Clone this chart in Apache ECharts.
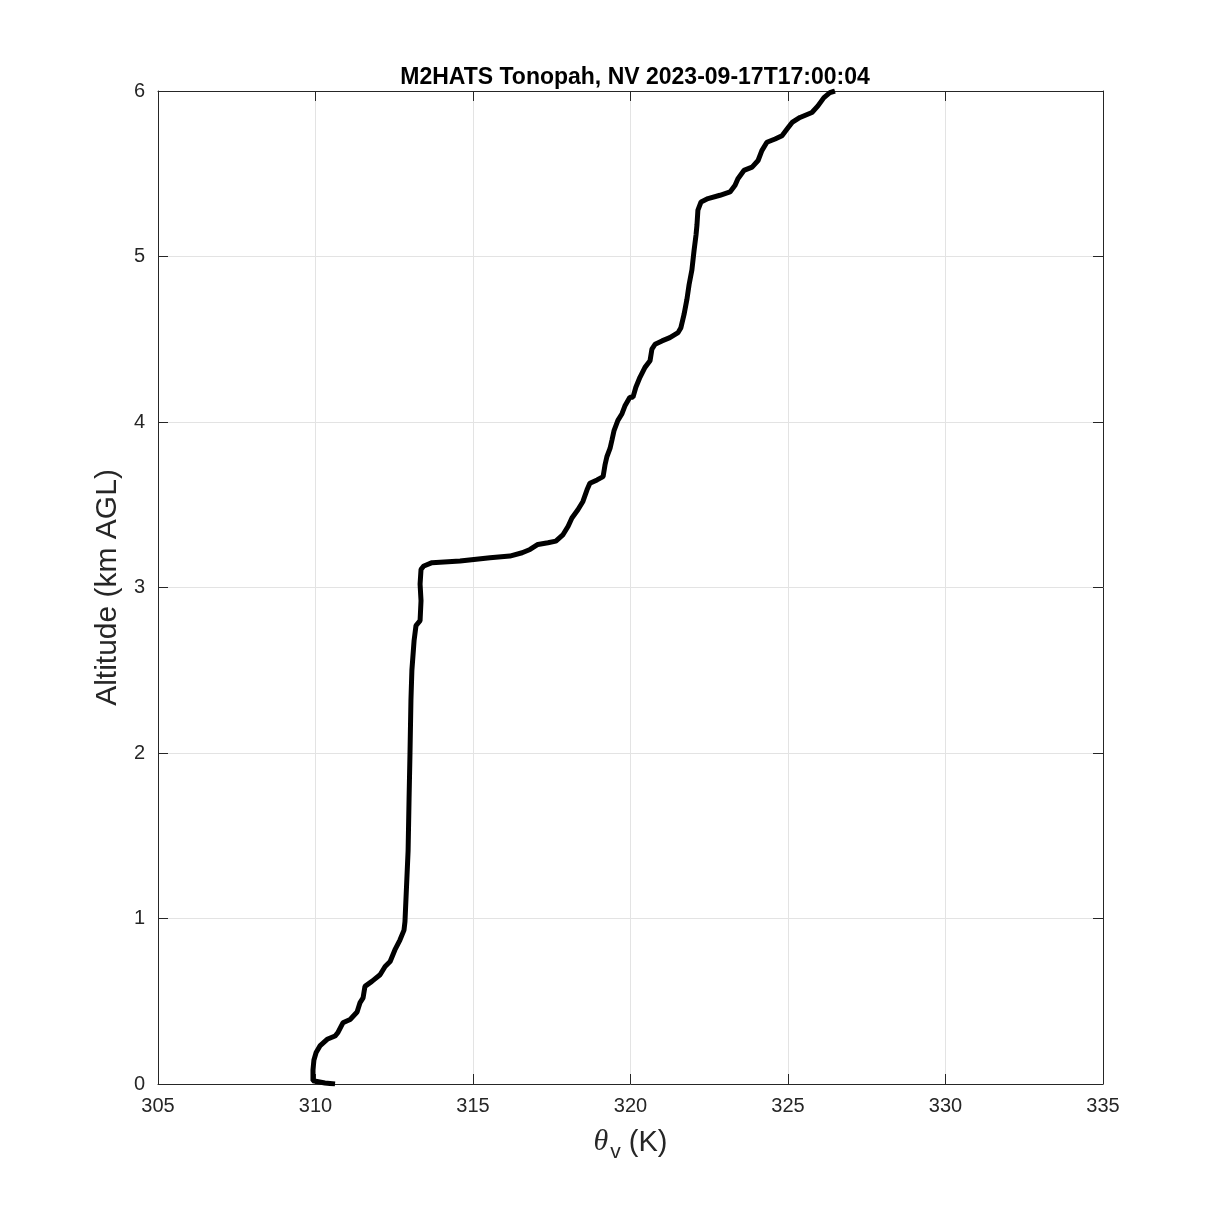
<!DOCTYPE html>
<html>
<head>
<meta charset="utf-8">
<script src="https://cdn.jsdelivr.net/npm/echarts@6/dist/echarts.min.js"></script>
<style>html,body{margin:0;padding:0;background:#fff;}#c{width:1219px;height:1219px;}</style>
</head>
<body>
<div id="c"></div>
<script>
const thetaV = [310.62,310.30,309.92,309.92,309.95,310.02,310.14,310.37,310.62,310.71,310.87,311.10,311.32,311.41,311.51,311.57,311.79,312.05,312.21,312.37,312.52,312.68,312.81,312.84,312.87,312.94,312.97,313.00,313.03,313.06,313.13,313.19,313.32,313.35,313.32,313.35,313.44,313.70,314.59,315.54,316.17,316.56,316.81,317.06,317.38,317.63,317.86,318.02,318.14,318.33,318.49,318.62,318.71,318.94,319.13,319.19,319.25,319.35,319.41,319.48,319.60,319.73,319.83,319.98,320.08,320.17,320.30,320.46,320.62,320.68,320.78,321.00,321.25,321.51,321.60,321.70,321.79,321.86,321.95,322.02,322.08,322.11,322.14,322.24,322.46,322.84,323.16,323.32,323.41,323.60,323.86,324.05,324.17,324.33,324.59,324.81,324.97,325.13,325.38,325.76,325.95,326.14,326.33,326.49];
const altitudeKm = [0.00,0.006,0.02,0.085,0.145,0.19,0.23,0.27,0.29,0.31,0.37,0.39,0.435,0.49,0.52,0.59,0.62,0.66,0.71,0.74,0.81,0.87,0.93,0.98,1.11,1.41,1.72,2.00,2.32,2.50,2.68,2.77,2.80,2.92,3.02,3.11,3.13,3.15,3.16,3.18,3.19,3.21,3.23,3.26,3.27,3.28,3.32,3.37,3.42,3.47,3.52,3.59,3.63,3.65,3.67,3.74,3.79,3.84,3.89,3.95,4.01,4.05,4.10,4.15,4.15,4.21,4.27,4.33,4.37,4.44,4.47,4.49,4.51,4.54,4.57,4.65,4.74,4.83,4.92,5.04,5.13,5.19,5.28,5.33,5.35,5.37,5.39,5.43,5.47,5.52,5.54,5.58,5.64,5.69,5.71,5.73,5.77,5.81,5.84,5.87,5.91,5.96,5.99,6.00];
const xTicks = [305,310,315,320,325,330,335];
const yTicks = [0,1,2,3,4,5,6];
const titleText = 'M2HATS Tonopah, NV 2023-09-17T17:00:04';

const data = thetaV.map((t,i)=>[t, altitudeKm[i]]);
const font = 'Helvetica, "Liberation Sans", Arial, sans-serif';
const serif = '"Liberation Serif", "DejaVu Serif", serif';
const axisCol = '#262626';
const chart = echarts.init(document.getElementById('c'));
const common = {
  axisLine:{show:true,onZero:false,lineStyle:{color:axisCol,width:1}},
  axisTick:{show:true,inside:true,length:10,lineStyle:{color:axisCol,width:1}},
};
chart.setOption({
  animation:false,
  backgroundColor:'#fff',
  title:{text:titleText,left:630,top:61,textAlign:'center',
    textStyle:{fontFamily:font,fontSize:23,fontWeight:'bold',color:'#000'}},
  grid:{left:158,top:91,width:945,height:993},
  xAxis:[
    Object.assign({type:'value',min:xTicks[0],max:xTicks[xTicks.length-1],interval:5,position:'bottom',
      name:'{th|θ}{s|v}{t| (K)}',nameLocation:'middle',nameGap:38,
      nameTextStyle:{rich:{
        th:{fontFamily:serif,fontStyle:'italic',fontSize:30,color:axisCol},
        t:{fontFamily:font,fontSize:29,color:axisCol},
        s:{fontFamily:font,fontSize:21,color:axisCol,padding:[20,0,0,2]}}},
      axisLabel:{fontFamily:font,fontSize:20,color:axisCol,margin:12},
      splitLine:{show:true,lineStyle:{color:'#e3e3e3',width:1}}},common),
    Object.assign({type:'value',min:xTicks[0],max:xTicks[xTicks.length-1],interval:5,position:'top',
      axisLabel:{show:false},splitLine:{show:false}},common)
  ],
  yAxis:[
    Object.assign({type:'value',min:yTicks[0],max:yTicks[yTicks.length-1],interval:1,position:'left',
      name:'Altitude (km AGL)',nameLocation:'middle',nameGap:23,
      nameTextStyle:{fontFamily:font,fontSize:30,color:axisCol},
      axisLabel:{fontFamily:font,fontSize:20,color:axisCol,margin:13},
      splitLine:{show:true,lineStyle:{color:'#e3e3e3',width:1}}},common),
    Object.assign({type:'value',min:yTicks[0],max:yTicks[yTicks.length-1],interval:1,position:'right',
      axisLabel:{show:false},splitLine:{show:false}},common)
  ],
  series:[{type:'line',data:data,showSymbol:false,symbol:'none',
    lineStyle:{color:'#000',width:5},clip:true}]
});
</script>
</body>
</html>
